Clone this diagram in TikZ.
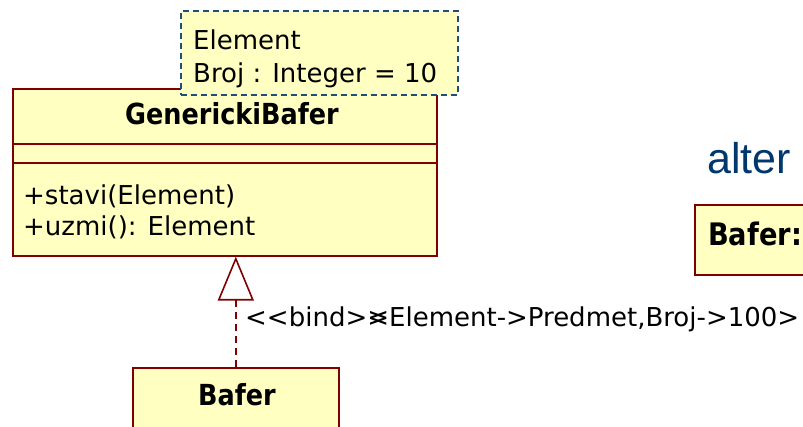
\documentclass[tikz,border=0pt]{standalone}
\usepackage{fontspec}
\setmainfont{DejaVu Sans}
\newfontfamily\namefont{DejaVu Sans}[FakeStretch=0.88]
\newfontfamily\bindfont{DejaVu Sans}
\newfontfamily\altfont{Liberation Sans}
\usetikzlibrary{arrows.meta, positioning}

\definecolor{umlfill}{RGB}{255,255,194}
\definecolor{umlline}{RGB}{128,0,0}
\definecolor{noteblue}{RGB}{31,78,121}
\definecolor{titleblue}{RGB}{0,56,110}

\tikzset{
  cls/.style={draw=umlline, line width=1.6pt, fill=umlfill, inner sep=0pt, anchor=north west},
  tmpl/.style={draw=noteblue, line width=1.6pt, dash pattern=on 6pt off 4pt, fill=umlfill, inner sep=0pt, anchor=north west},
  txt/.style={inner sep=0pt, anchor=base west, font=\fontsize{26}{31}\selectfont},
  clsname/.style={inner sep=0pt, font=\namefont\bfseries\fontsize{29}{34}\selectfont},
}

\begin{document}
\begin{tikzpicture}[x=1pt, y=-1pt]
    \useasboundingbox (0,0) rectangle (803,427);
    \clip (0,0) rectangle (803,427);

    % generic class
    \node[cls, minimum width=424pt, minimum height=55pt] (gbname) at (12,88) {};
    \node[cls, minimum width=424pt, minimum height=19pt] (gbattr) at (12,143) {};
    \node[cls, minimum width=424pt, minimum height=93pt] (gbops) at (12,162) {};
    \node[clsname, anchor=base] (gbtitle) at (232,125) {GenerickiBafer};
    \node[txt] (op1) at (23,205) {+stavi(Element)};
    \node[txt] (op2) at (23,236) {+uzmi(): Element};

    % template parameters
    \node[tmpl, minimum width=277pt, minimum height=84pt] (tpar) at (180,10) {};
    \node[txt] (par1) at (193,50) {Element};
    \node[txt] (par2) at (193,83) {Broj : Integer = 10};

    % bound class
    \node[cls, minimum width=206pt, minimum height=80pt] (bafer) at (132,367) {};
    \node[clsname, anchor=base] (bafertitle) at (237,405) {Bafer};

    \draw[umlline, line width=1.6pt, dash pattern=on 7pt off 5pt,
          -{Triangle[length=44pt, width=36pt, fill=white]}]
        (bafer.north) -- (bafer.north |- gbops.south);
    \node[txt, font=\bindfont\fontsize{26}{31}\selectfont] (bind) at (245,327)
        {<<bind>>\kern-0.838em<Element->Predmet,Broj->100>};

    % alternative notation
    \node[inner sep=0pt, anchor=base west, text=titleblue,
          font=\altfont\fontsize{43}{50}\selectfont] (alt) at (707,174) {alter};
    \node[cls, minimum width=130pt, minimum height=70pt] (bafobj) at (694,204) {};
    \node[clsname, anchor=base west, font=\namefont\bfseries\fontsize{31}{36}\selectfont] (bafobjtitle) at (708,246) {Bafer:};
\end{tikzpicture}
\end{document}
